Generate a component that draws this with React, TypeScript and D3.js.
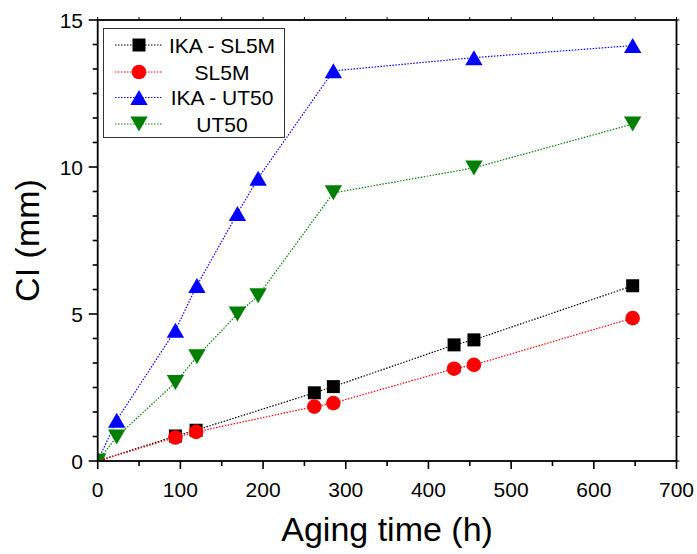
import React, { useEffect, useRef } from "react";
import * as d3 from "d3";

// Aging time (h) and CI (mm)
const hoursSL5M = [0, 94, 119, 262, 285, 431, 455, 647];
const ikaSL5M = [0, 0.85, 1.05, 2.32, 2.53, 3.95, 4.12, 5.96];
const sl5m = [0, 0.8, 0.99, 1.85, 1.97, 3.14, 3.27, 4.86];

const hoursUT50 = [0, 23, 94, 120, 169, 194, 285, 455, 647];
const ikaUT50 = [0, 1.39, 4.45, 5.97, 8.42, 9.62, 13.27, 13.72, 14.13];
const ut50 = [0, 0.82, 2.67, 3.55, 5.0, 5.62, 9.12, 9.97, 11.46];

const seriesNames = ["IKA - SL5M", "SL5M", "IKA - UT50", "UT50"];
const seriesColors = ["#000000", "#ff0000", "#0000ff", "#008000"];
const seriesShapes = ["square", "circle", "up", "down"];

const xTicks = [0, 100, 200, 300, 400, 500, 600, 700];
const yTicks = [0, 5, 10, 15];

const FONT = "'Liberation Sans', Arial, sans-serif";

function markerPath(shape: string) {
  if (shape === "square") return "M-6.5,-6.5H6.5V6.5H-6.5Z";
  if (shape === "circle") return d3.symbol(d3.symbolCircle, Math.PI * 7.3 * 7.3)() as string;
  if (shape === "up") return "M0,-7.5L8.7,7.5L-8.7,7.5Z";
  return "M0,7.5L8.7,-7.5L-8.7,-7.5Z";
}

export default function App() {
  const ref = useRef<SVGSVGElement>(null);

  useEffect(() => {
    const svg = d3.select(ref.current);
    svg.selectAll("*").remove();

    const left = 97.7, right = 676.5, top = 20, bottom = 461;

    const x = d3.scaleLinear().domain([0, 700]).range([left, right]);
    const y = d3.scaleLinear().domain([0, 15]).range([bottom, top]);

    const data = [
      { xs: hoursSL5M, ys: ikaSL5M },
      { xs: hoursSL5M, ys: sl5m },
      { xs: hoursUT50, ys: ikaUT50 },
      { xs: hoursUT50, ys: ut50 },
    ];

    svg.append("defs").append("clipPath").attr("id", "plotclip")
      .append("rect")
      .attr("x", left).attr("y", top)
      .attr("width", right - left).attr("height", bottom - top);

    // series
    const plot = svg.append("g").attr("clip-path", "url(#plotclip)");
    data.forEach((s, i) => {
      const pts = s.xs.map((v, j) => [x(v), y(s.ys[j])] as [number, number]);
      plot.append("path")
        .attr("d", d3.line()(pts))
        .attr("fill", "none")
        .attr("stroke", seriesColors[i])
        .attr("stroke-width", 1.2)
        .attr("stroke-dasharray", "1.5,1.5");
      plot.selectAll(null)
        .data(pts)
        .enter()
        .append("path")
        .attr("d", markerPath(seriesShapes[i]))
        .attr("transform", d => `translate(${d[0]},${d[1]})`)
        .attr("fill", seriesColors[i]);
    });

    // axes
    const xMinor = d3.range(0, 701, 50);
    const yMinor = d3.range(0, 15.001, 5 / 6);

    const g = svg.append("g").attr("stroke", "#000");
    xMinor.forEach(v => {
      const major = v % 100 === 0;
      g.append("line").attr("x1", x(v)).attr("x2", x(v))
        .attr("y1", bottom).attr("y2", bottom + (major ? 8 : 5)).attr("stroke-width", 1.6);
      g.append("line").attr("x1", x(v)).attr("x2", x(v))
        .attr("y1", top).attr("y2", top - 3).attr("stroke-width", 1);
    });
    yMinor.forEach(v => {
      const major = Math.abs(v / 5 - Math.round(v / 5)) < 1e-6;
      g.append("line").attr("y1", y(v)).attr("y2", y(v))
        .attr("x1", left).attr("x2", left - (major ? 9 : 5)).attr("stroke-width", 1.6);
      g.append("line").attr("y1", y(v)).attr("y2", y(v))
        .attr("x1", right).attr("x2", right + 3).attr("stroke-width", 1);
    });

    svg.append("rect")
      .attr("x", left).attr("y", top)
      .attr("width", right - left).attr("height", bottom - top)
      .attr("fill", "none").attr("stroke", "#000").attr("stroke-width", 1.8);

    svg.append("g").selectAll("text").data(xTicks).enter().append("text")
      .attr("x", d => x(d)).attr("y", 497)
      .attr("text-anchor", "middle")
      .attr("font-family", FONT).attr("font-size", 21)
      .text(d => d);

    svg.append("g").selectAll("text").data(yTicks).enter().append("text")
      .attr("x", 83).attr("y", d => y(d)).attr("dy", "0.36em")
      .attr("text-anchor", "end")
      .attr("font-family", FONT).attr("font-size", 21)
      .text(d => d);

    svg.append("text")
      .attr("x", (left + right) / 2).attr("y", 541)
      .attr("text-anchor", "middle")
      .attr("font-family", FONT).attr("font-size", 34)
      .text("Aging time (h)");

    svg.append("text")
      .attr("transform", `translate(39,${(top + bottom) / 2}) rotate(-90)`)
      .attr("text-anchor", "middle")
      .attr("font-family", FONT).attr("font-size", 34)
      .text("CI (mm)");

    // legend
    const lg = svg.append("g");
    lg.append("rect")
      .attr("x", 103.5).attr("y", 28.5).attr("width", 181).attr("height", 109)
      .attr("fill", "#fff").attr("stroke", "#333").attr("stroke-width", 1);
    const rowY = [45, 72, 97.5, 124];
    seriesNames.forEach((name, i) => {
      lg.append("line")
        .attr("x1", 115).attr("x2", 163).attr("y1", rowY[i]).attr("y2", rowY[i])
        .attr("stroke", seriesColors[i]).attr("stroke-width", 1.2)
        .attr("stroke-dasharray", "1.5,1.5");
      lg.append("path")
        .attr("d", markerPath(seriesShapes[i]))
        .attr("transform", `translate(139,${rowY[i]})`)
        .attr("fill", seriesColors[i]);
      lg.append("text")
        .attr("x", 222).attr("y", rowY[i]).attr("dy", "0.36em")
        .attr("text-anchor", "middle")
        .attr("font-family", FONT).attr("font-size", 21)
        .text(name);
    });
  }, []);

  return (
    <svg
      ref={ref}
      width={697}
      height={554}
      style={{ position: "absolute", left: 0, top: 0, background: "#fff" }}
    />
  );
}
